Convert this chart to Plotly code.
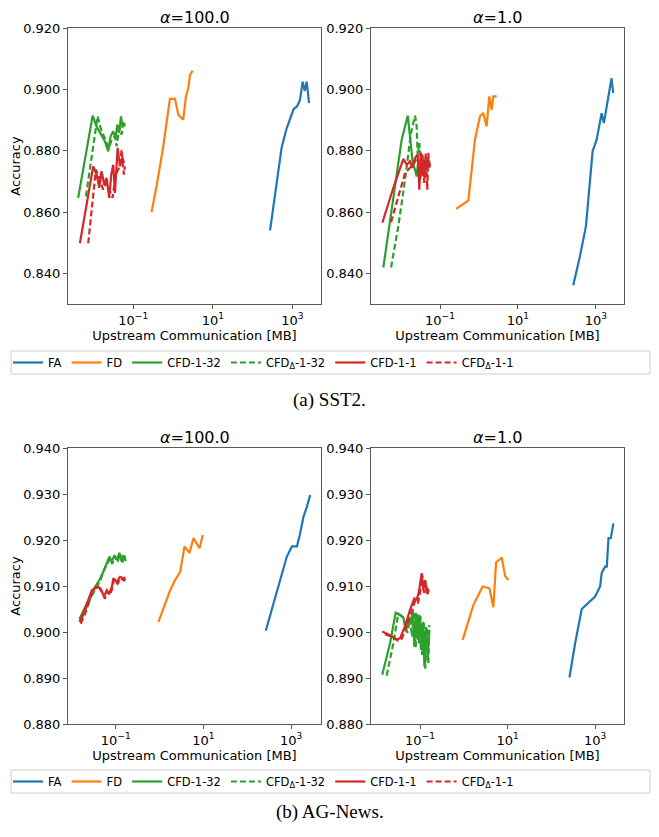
import plotly.graph_objects as go

# ---------------- data (x: upstream communication in MB, y: accuracy) ----------------
# (a) SST2, alpha = 100.0
SST2_A100_FA_X = [275, 380, 537, 708, 933, 1070, 1320, 1550, 1820, 2040, 2290, 2630]
SST2_A100_FA_Y = [0.854, 0.867, 0.881, 0.887, 0.8915, 0.8935, 0.8945, 0.8965, 0.9025, 0.8995, 0.9025, 0.8955]
SST2_A100_FD_X = [0.289, 0.386, 0.569, 0.836, 1.12, 1.36, 1.64, 1.81, 2.11, 2.42, 2.67, 3.11]
SST2_A100_FD_Y = [0.860, 0.8684, 0.8814, 0.8969, 0.8969, 0.8917, 0.8906, 0.8901, 0.8977, 0.9004, 0.9047, 0.9061]
SST2_A100_C32_X = [0.00413, 0.00953, 0.0120, 0.0160, 0.0194, 0.0235, 0.0270, 0.0314, 0.0361, 0.0396, 0.0445, 0.0491, 0.0541, 0.0618]
SST2_A100_C32_Y = [0.8646, 0.8914, 0.8879, 0.8847, 0.8830, 0.8798, 0.8847, 0.8863, 0.8841, 0.8885, 0.8858, 0.8912, 0.8879, 0.8890]
SST2_A100_D32_X = [0.00646, 0.0127, 0.0160, 0.0194, 0.0222, 0.0249, 0.0286, 0.0347, 0.0382, 0.0445, 0.0511, 0.0561, 0.0618]
SST2_A100_D32_Y = [0.8651, 0.8912, 0.8863, 0.8841, 0.8820, 0.8809, 0.8836, 0.8847, 0.8814, 0.8874, 0.8852, 0.8895, 0.8879]
SST2_A100_C1_X = [0.00456, 0.00986, 0.0120, 0.0140, 0.0160, 0.0187, 0.0214, 0.0249, 0.0280, 0.0314, 0.0347, 0.0382, 0.0405, 0.0463, 0.0530, 0.0594]
SST2_A100_C1_Y = [0.8498, 0.8749, 0.8722, 0.8679, 0.8733, 0.8689, 0.8711, 0.8646, 0.8722, 0.8754, 0.8662, 0.8771, 0.8809, 0.8749, 0.8776, 0.8760]
SST2_A100_D1_X = [0.00738, 0.0115, 0.0145, 0.0176, 0.0214, 0.0259, 0.0303, 0.0347, 0.0396, 0.0463, 0.0511, 0.0583, 0.0618]
SST2_A100_D1_Y = [0.8498, 0.8738, 0.8706, 0.8673, 0.8695, 0.8668, 0.8646, 0.8706, 0.8733, 0.8749, 0.8803, 0.8722, 0.8749]

# (a) SST2, alpha = 1.0
SST2_A1_FA_X = [262, 389, 555, 676, 822, 1040, 1400, 1600, 2070, 2510, 2780]
SST2_A1_FA_Y = [0.8361, 0.8456, 0.8554, 0.8684, 0.8798, 0.8836, 0.8922, 0.8890, 0.8977, 0.9036, 0.8988]
SST2_A1_FD_X = [0.257, 0.532, 0.789, 1.06, 1.29, 1.57, 1.84, 2.12, 2.33, 2.84]
SST2_A1_FD_Y = [0.8610, 0.8637, 0.8836, 0.8912, 0.8923, 0.8879, 0.8977, 0.8933, 0.8977, 0.8977]
SST2_A1_C32_X = [0.00352, 0.00522, 0.00774, 0.0104, 0.0149, 0.0164, 0.0180, 0.0200, 0.0229, 0.0252, 0.0278, 0.0307, 0.0352, 0.0412, 0.0484, 0.0555]
SST2_A1_C32_Y = [0.8419, 0.8565, 0.8716, 0.8836, 0.8914, 0.8868, 0.8814, 0.8760, 0.8738, 0.8716, 0.8771, 0.8706, 0.8754, 0.8733, 0.8760, 0.8744]
SST2_A1_D32_X = [0.00555, 0.00853, 0.0127, 0.0180, 0.0229, 0.0252, 0.0268, 0.0295, 0.0340, 0.0373, 0.0412, 0.0455, 0.0501, 0.0555]
SST2_A1_D32_Y = [0.8419, 0.8554, 0.8706, 0.8858, 0.8914, 0.8879, 0.8781, 0.8825, 0.8738, 0.8781, 0.8716, 0.8771, 0.8749, 0.8760]
SST2_A1_C1_X = [0.00332, 0.00635, 0.0115, 0.0140, 0.0170, 0.0195, 0.0229, 0.0268, 0.0295, 0.0326, 0.0360, 0.0412, 0.0455, 0.0501, 0.0555]
SST2_A1_C1_Y = [0.8565, 0.8679, 0.8773, 0.8754, 0.8765, 0.8744, 0.8776, 0.8787, 0.8673, 0.8793, 0.8716, 0.8771, 0.8738, 0.8771, 0.8749]
SST2_A1_D1_X = [0.00555, 0.00853, 0.0127, 0.0170, 0.0219, 0.0268, 0.0307, 0.0352, 0.0395, 0.0430, 0.0472, 0.0501, 0.0555]
SST2_A1_D1_Y = [0.8567, 0.8651, 0.8727, 0.8744, 0.8760, 0.8781, 0.8749, 0.8787, 0.8695, 0.8793, 0.8673, 0.8793, 0.8738]

# (b) AG-News, alpha = 100.0
AG_A100_FA_X = [264, 362, 514, 646, 796, 1040, 1350, 1600, 1910, 2280, 2710]
AG_A100_FA_Y = [0.9003, 0.9048, 0.9099, 0.9131, 0.9164, 0.9186, 0.9186, 0.9214, 0.9251, 0.9272, 0.9298]
AG_A100_FD_X = [0.940, 1.27, 1.74, 2.26, 2.94, 3.69, 4.80, 5.92, 8.11, 9.66]
AG_A100_FD_Y = [0.9022, 0.9055, 0.9091, 0.9113, 0.9131, 0.9186, 0.9172, 0.9204, 0.9182, 0.9211]
AG_A100_C32_X = [0.0148, 0.0199, 0.0259, 0.0337, 0.0423, 0.0521, 0.0624, 0.0714, 0.0811, 0.0929, 0.105, 0.121, 0.137, 0.149, 0.163]
AG_A100_C32_Y = [0.9028, 0.9055, 0.9077, 0.9098, 0.9113, 0.9131, 0.9149, 0.9164, 0.9153, 0.9167, 0.9157, 0.9172, 0.9153, 0.9167, 0.9160]
AG_A100_D32_X = [0.0158, 0.0204, 0.0263, 0.0347, 0.0437, 0.0537, 0.0646, 0.0741, 0.0832, 0.0955, 0.110, 0.126, 0.141, 0.155, 0.170]
AG_A100_D32_Y = [0.9025, 0.9050, 0.9072, 0.9095, 0.9110, 0.9135, 0.9150, 0.9160, 0.9148, 0.9165, 0.9152, 0.9170, 0.9150, 0.9168, 0.9152]
AG_A100_C1_X = [0.0148, 0.0189, 0.0237, 0.0283, 0.0337, 0.0401, 0.0479, 0.0541, 0.0624, 0.0714, 0.0811, 0.0881, 0.105, 0.125, 0.149, 0.163]
AG_A100_C1_Y = [0.9022, 0.9044, 0.9070, 0.9091, 0.9095, 0.9098, 0.9088, 0.9077, 0.9091, 0.9084, 0.9098, 0.9117, 0.9109, 0.9120, 0.9117, 0.9119]
AG_A100_D1_X = [0.0158, 0.0200, 0.0245, 0.0295, 0.0347, 0.0417, 0.0501, 0.0562, 0.0646, 0.0741, 0.0832, 0.0912, 0.110, 0.129, 0.155, 0.170]
AG_A100_D1_Y = [0.9018, 0.9040, 0.9065, 0.9088, 0.9097, 0.9100, 0.9085, 0.9072, 0.9088, 0.9080, 0.9095, 0.9115, 0.9105, 0.9117, 0.9112, 0.9118]

# (b) AG-News, alpha = 1.0
AG_A1_FA_X = [259, 349, 495, 769, 1000, 1300, 1420, 1690, 1850, 2020, 2280, 2620]
AG_A1_FA_Y = [0.8901, 0.8975, 0.9050, 0.9066, 0.9077, 0.9099, 0.9129, 0.9142, 0.9142, 0.9204, 0.9204, 0.9236]
AG_A1_FD_X = [0.944, 1.66, 2.70, 3.85, 4.74, 5.46, 7.36, 8.77, 10.4]
AG_A1_FD_Y = [0.8983, 0.9059, 0.9099, 0.9095, 0.9054, 0.9151, 0.9162, 0.9122, 0.9113]
AG_A1_C32_X = [0.0137, 0.0206, 0.0278, 0.0349, 0.0416, 0.0471, 0.0541, 0.0622, 0.0681, 0.0741, 0.0811, 0.0885, 0.0964, 0.105, 0.115, 0.126, 0.137, 0.150, 0.163]
AG_A1_C32_Y = [0.8907, 0.8975, 0.9042, 0.9037, 0.9032, 0.9004, 0.9030, 0.9019, 0.9048, 0.8968, 0.9041, 0.8983, 0.9037, 0.8961, 0.9022, 0.8925, 0.9011, 0.8939, 0.9005]
AG_A1_D32_X = [0.0173, 0.0245, 0.0319, 0.0380, 0.0447, 0.0513, 0.0589, 0.0661, 0.0724, 0.0794, 0.0871, 0.0944, 0.102, 0.112, 0.122, 0.132, 0.143, 0.155, 0.162]
AG_A1_D32_Y = [0.8905, 0.8975, 0.9040, 0.9035, 0.9020, 0.8998, 0.9028, 0.8990, 0.9045, 0.8965, 0.9040, 0.8975, 0.9035, 0.8950, 0.9020, 0.8920, 0.9010, 0.8930, 0.9015]
AG_A1_C1_X = [0.0137, 0.0206, 0.0293, 0.0349, 0.0454, 0.0590, 0.0741, 0.0839, 0.0948, 0.109, 0.119, 0.130, 0.142, 0.155]
AG_A1_C1_Y = [0.9001, 0.8993, 0.8984, 0.8986, 0.9012, 0.9048, 0.9073, 0.9070, 0.9088, 0.9128, 0.9091, 0.9113, 0.9084, 0.9095]
AG_A1_D1_X = [0.0158, 0.0224, 0.0316, 0.0380, 0.0490, 0.0631, 0.0776, 0.0891, 0.100, 0.112, 0.123, 0.135, 0.148, 0.158]
AG_A1_D1_Y = [0.8995, 0.8990, 0.8981, 0.8985, 0.9010, 0.9045, 0.9068, 0.9062, 0.9085, 0.9125, 0.9085, 0.9110, 0.9082, 0.9092]

SERIES_NAMES = ["FA", "FD", "CFD-1-32", "CFD<sub>Δ</sub>-1-32", "CFD-1-1", "CFD<sub>Δ</sub>-1-1"]
SERIES_COLORS = ["#1f77b4", "#ff7f0e", "#2ca02c", "#2ca02c", "#d62728", "#d62728"]
SERIES_DASH = ["solid", "solid", "solid", "6px,3px", "solid", "6px,3px"]

PANEL_TITLES = ["<i>α</i>=100.0", "<i>α</i>=1.0", "<i>α</i>=100.0", "<i>α</i>=1.0"]
X_TICK_VALS = [0.1, 10, 1000]
X_TICK_TEXT = ["10<sup>−1</sup>", "10<sup>1</sup>", "10<sup>3</sup>"]
X_TITLE = "Upstream Communication [MB]"
Y_TITLE = "Accuracy"
CAPTIONS = ["(a) SST2.", "(b) AG-News."]

panels = [
    [(SST2_A100_FA_X, SST2_A100_FA_Y), (SST2_A100_FD_X, SST2_A100_FD_Y),
     (SST2_A100_C32_X, SST2_A100_C32_Y), (SST2_A100_D32_X, SST2_A100_D32_Y),
     (SST2_A100_C1_X, SST2_A100_C1_Y), (SST2_A100_D1_X, SST2_A100_D1_Y)],
    [(SST2_A1_FA_X, SST2_A1_FA_Y), (SST2_A1_FD_X, SST2_A1_FD_Y),
     (SST2_A1_C32_X, SST2_A1_C32_Y), (SST2_A1_D32_X, SST2_A1_D32_Y),
     (SST2_A1_C1_X, SST2_A1_C1_Y), (SST2_A1_D1_X, SST2_A1_D1_Y)],
    [(AG_A100_FA_X, AG_A100_FA_Y), (AG_A100_FD_X, AG_A100_FD_Y),
     (AG_A100_C32_X, AG_A100_C32_Y), (AG_A100_D32_X, AG_A100_D32_Y),
     (AG_A100_C1_X, AG_A100_C1_Y), (AG_A100_D1_X, AG_A100_D1_Y)],
    [(AG_A1_FA_X, AG_A1_FA_Y), (AG_A1_FD_X, AG_A1_FD_Y),
     (AG_A1_C32_X, AG_A1_C32_Y), (AG_A1_D32_X, AG_A1_D32_Y),
     (AG_A1_C1_X, AG_A1_C1_Y), (AG_A1_D1_X, AG_A1_D1_Y)],
]

# ---------------- layout geometry (page pixels) ----------------
PAGE_W, PAGE_H = 659, 837
BODY_MARGIN = 8  # default browser body margin around the plot div
W, H = PAGE_W - 2 * BODY_MARGIN, PAGE_H - 2 * BODY_MARGIN
FONT = "DejaVu Sans"


def px_x(p):
    return (p - BODY_MARGIN) / W


def px_y(p):
    return 1 - (p - BODY_MARGIN) / H


x_domains = [(68, 321), (371, 624), (68, 321), (371, 624)]
y_domains = [(28, 304), (28, 304), (448, 724), (448, 724)]
x_ranges = [(-2.64, 3.72), (-2.77, 3.72), (-2.09, 3.68), (-2.12, 3.66)]
y_ranges = [(0.830, 0.920), (0.830, 0.920), (0.880, 0.940), (0.880, 0.940)]
y_dticks = [0.02, 0.02, 0.01, 0.01]
y_tick0 = [0.840, 0.840, 0.880, 0.880]
legend_boxes = [(11, 351, 650, 374), (11, 770, 650, 793)]

fig = go.Figure()

for pi, panel in enumerate(panels):
    ax = "" if pi == 0 else str(pi + 1)
    legend_name = "legend" if pi == 0 else ("legend2" if pi == 2 else None)
    for si, (xs, ys) in enumerate(panel):
        fig.add_trace(go.Scatter(
            x=xs, y=ys, mode="lines", name=SERIES_NAMES[si],
            line=dict(color=SERIES_COLORS[si], width=2.2, dash=SERIES_DASH[si]),
            xaxis="x" + ax, yaxis="y" + ax,
            showlegend=legend_name is not None,
            legend=legend_name if legend_name else "legend",
        ))

layout = dict(
    width=W, height=H,
    margin=dict(l=0, r=0, t=0, b=0, autoexpand=False),
    paper_bgcolor="white", plot_bgcolor="white",
    font=dict(family=FONT, size=13, color="black"),
    annotations=[], shapes=[],
)

for pi in range(4):
    ax = "" if pi == 0 else str(pi + 1)
    xd = x_domains[pi]
    yd = y_domains[pi]
    layout["xaxis" + ax] = dict(
        type="log", domain=[px_x(xd[0]), px_x(xd[1])], range=list(x_ranges[pi]),
        anchor="y" + ax, tickvals=X_TICK_VALS, ticktext=X_TICK_TEXT,
        ticks="outside", ticklen=4, tickcolor="#555", tickwidth=1,
        showline=True, linecolor="#5a5a5a", linewidth=1, mirror=True,
        showgrid=False, zeroline=False, automargin=False,
        tickfont=dict(family=FONT, size=13, color="black"),
        title=dict(text=X_TITLE, font=dict(family=FONT, size=13, color="black"), standoff=0),
    )
    layout["yaxis" + ax] = dict(
        domain=[px_y(yd[1]), px_y(yd[0])], range=list(y_ranges[pi]),
        anchor="x" + ax, tick0=y_tick0[pi], dtick=y_dticks[pi], tickformat=".3f",
        ticks="outside", ticklen=4, tickcolor="#555", tickwidth=1,
        showline=True, linecolor="#5a5a5a", linewidth=1, mirror=True,
        showgrid=False, zeroline=False, automargin=False,
        tickfont=dict(family=FONT, size=13, color="black"),
    )
    if pi in (0, 2):
        layout["yaxis" + ax]["title"] = dict(text=Y_TITLE, font=dict(family=FONT, size=13, color="black"), standoff=6)
    layout["annotations"].append(dict(
        text=PANEL_TITLES[pi], xref="paper", yref="paper",
        x=px_x((xd[0] + xd[1]) / 2), y=px_y(yd[0] + 1), xanchor="center", yanchor="bottom",
        showarrow=False, font=dict(family=FONT, size=16, color="black"),
    ))

for ci, cy in enumerate([400, 812]):
    layout["annotations"].append(dict(
        text=CAPTIONS[ci], xref="paper", yref="paper", x=px_x(PAGE_W / 2), y=px_y(cy),
        xanchor="center", yanchor="middle", showarrow=False,
        font=dict(family="Liberation Serif", size=19, color="black"),
    ))

for (x0, y0, x1, y1) in legend_boxes:
    layout["shapes"].append(dict(
        type="rect", xref="paper", yref="paper", layer="below",
        x0=px_x(x0), x1=px_x(x1), y0=px_y(y1), y1=px_y(y0),
        line=dict(color="#d0d0d0", width=1), fillcolor="white",
    ))

legend_common = dict(
    orientation="h", xanchor="left", yanchor="middle",
    bgcolor="rgba(0,0,0,0)", borderwidth=0,
    font=dict(family=FONT, size=11.5, color="black"),
    itemwidth=30, itemclick=False, itemdoubleclick=False,
)
layout["legend"] = dict(legend_common, x=0, y=px_y(362.5))
layout["legend2"] = dict(legend_common, x=0, y=px_y(781.5))

fig.update_layout(**layout)
fig.write_html("out.html")
